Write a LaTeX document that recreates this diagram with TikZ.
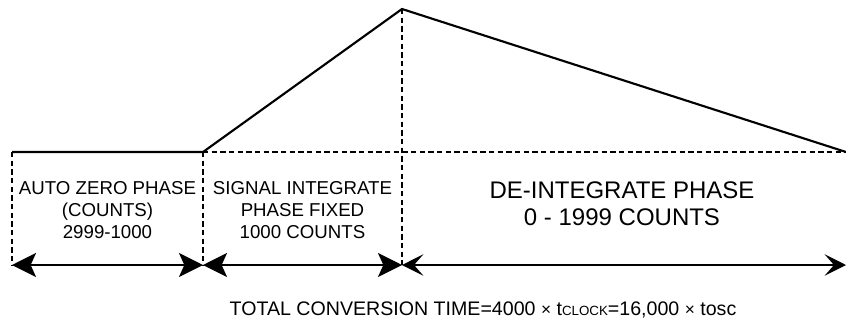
\documentclass[tikz,border=0pt]{standalone}
\usepackage{fontspec}
\setmainfont{Liberation Sans}
\usetikzlibrary{arrows.meta}

\begin{document}
\begin{tikzpicture}[x=0.75pt, y=-0.75pt,
    trace/.style={line width=1.6pt, line join=miter},
    guide/.style={line width=1.5pt, dash pattern=on 4pt off 2.5pt},
    span/.style={line width=1.6pt, {Stealth[length=18pt, width=18pt, inset=4pt]}-{Stealth[length=18pt, width=18pt, inset=4pt]}},
    longspan/.style={line width=1.6pt, {Stealth[length=16pt, width=16pt, inset=7pt]}-{Stealth[length=16pt, width=16pt, inset=7pt]}},
    phase/.style={align=center, inner sep=0pt, font=\fontsize{14}{16.5}\selectfont}]

    \useasboundingbox (0,0) rectangle (846,322);

    % draw points
    \foreach \n/\x/\y in {a0/12/152, a1/203/152, peak/402/9, a3/846/152,
                          b0/12/265, b1/203/265, b2/402/265, b3/846/265}
        \coordinate (\n) at (\x, \y);

    % draw ramp
    \draw [trace] (a0) -- (a1) -- (peak) -- (a3);

    % draw guides
    \draw [guide] (a1) -- (a3);
    \foreach \i/\j in {a0/b0, a1/b1, peak/b2}
        \draw [guide] (\i) -- (\j);

    % draw spans
    \foreach \i/\j in {b0/b1, b1/b2}
        \draw [span] (\i) -- (\j);
    \draw [longspan] (b2) -- (b3);

    % draw labels
    \node [phase] (autozero) at (107.5, 210) {AUTO ZERO PHASE\\(COUNTS)\\2999-1000};
    \node [phase] (integrate) at (302.5, 210) {SIGNAL INTEGRATE\\PHASE FIXED\\1000 COUNTS};
    \node [phase, font=\fontsize{18}{20}\selectfont]
        (deintegrate) at (622, 204) {DE-INTEGRATE PHASE\\0 - 1999 COUNTS};
    \node [phase, font=\fontsize{14.7}{18}\selectfont]
        (total) at (483, 310) {TOTAL CONVERSION TIME=4000 {\fontsize{13}{13}\selectfont ×}
        t{\fontsize{10}{10}\selectfont CLOCK}=16,000 {\fontsize{13}{13}\selectfont ×} tosc};

\end{tikzpicture}
\end{document}
